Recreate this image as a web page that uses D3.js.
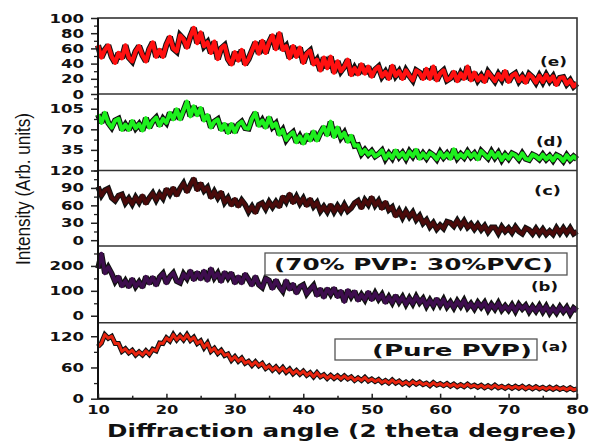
<!DOCTYPE html>
<html><head><meta charset="utf-8">
<script src="https://cdn.jsdelivr.net/npm/d3@7"></script>
<style>body{margin:0;background:#fff}svg{display:block}</style>
</head><body><svg id="c" width="589" height="441"></svg>
<script>
// sampling grid of diffraction angle (2 theta, degrees)
const angles = d3.range(10, 80.001, 0.5);

// (a) Pure PVP
const seriesA = [
100,107,123,116,120,106,106,91,96,88,
93,84,90,84,92,85,95,92,107,106,
117,111,123,113,121,113,123,112,118,106,
111,98,107,91,97,87,93,83,86,74,
81,72,78,68,72,64,71,63,68,58,
63,55,61,53,60,51,57,48,54,47,
53,45,50,42,50,42,46,39,45,39,
44,38,44,38,42,35,40,35,41,34,
38,33,37,31,35,30,36,30,34,28,
32,27,33,28,32,27,30,25,31,26,
29,25,29,24,28,23,27,23,28,23,
26,22,26,21,25,21,26,21,24,20,
24,20,24,20,24,19,23,19,23,19,
22,18,22,18,22,18,21,17,21,17,
19];
// (b) 70% PVP : 30% PVC
const seriesB = [
190,250,170,195,170,137,157,118,140,115,
148,117,136,114,157,129,155,122,155,170,
130,157,172,139,132,168,149,181,143,175,
146,181,140,190,152,171,136,175,151,172,
130,158,130,168,146,122,158,124,113,150,
142,108,143,116,98,142,105,128,90,116,
124,88,106,122,80,108,73,109,86,111,
75,100,55,103,76,98,61,85,64,96,
63,91,66,85,52,76,52,81,54,75,
46,71,48,77,52,69,39,63,40,68,
42,66,36,55,32,59,38,62,32,49,
28,53,34,53,23,46,27,51,23,40,
22,43,18,45,27,42,16,37,18,41,
16,38,11,31,12,36,16,34,8,31,
20];
// (c)
const seriesC = [
92,77,86,89,73,68,77,79,64,72,
62,74,65,77,63,73,81,69,80,72,
88,79,90,77,89,98,83,95,106,86,
98,85,91,73,84,73,83,65,73,60,
71,58,69,61,49,58,47,61,64,54,
66,57,66,57,75,66,80,64,75,63,
72,59,71,58,65,50,58,49,61,49,
59,50,61,50,55,64,68,55,69,61,
74,60,68,54,66,52,57,41,51,39,
50,40,48,35,42,29,35,23,30,19,
26,20,32,30,24,34,24,33,22,28,
19,27,18,25,14,22,22,12,23,15,
21,13,23,15,11,21,18,11,20,11,
19,10,16,10,21,12,21,12,21,11,
15];
// (d)
const seriesD = [
95,81,98,81,73,85,88,69,78,69,
84,72,79,68,89,73,84,90,76,88,
81,98,87,104,87,102,117,92,109,94,
106,85,94,73,83,87,69,79,64,79,
65,78,83,72,71,88,98,76,85,73,
90,74,80,61,69,52,60,65,48,58,
46,61,51,66,51,64,74,60,83,57,
73,56,64,49,59,42,43,28,35,27,
33,24,28,34,20,29,21,34,23,30,
20,32,24,35,20,29,21,30,26,19,
31,22,29,20,36,21,28,22,32,23,
29,19,33,27,21,32,22,30,18,27,
20,29,26,19,29,20,18,27,24,19,
27,19,25,17,26,23,16,26,18,24,
19];
// (e)
const seriesE = [
64,48,58,64,49,41,54,47,64,48,
43,56,63,51,43,59,68,49,58,49,
65,75,60,56,77,72,61,76,87,67,
81,63,68,54,69,46,60,64,46,39,
55,44,58,39,46,57,68,53,70,54,
68,77,59,80,58,63,47,63,49,61,
41,53,57,39,45,31,48,34,49,28,
43,30,36,45,25,34,26,39,27,36,
23,32,36,23,29,20,37,24,30,20,
31,24,18,31,28,20,33,20,36,18,
27,31,18,21,29,17,27,20,36,18,
28,18,24,16,29,23,17,26,19,30,
16,24,27,17,23,15,26,22,15,24,
16,25,17,23,12,21,22,13,18,10,
14];

const panelLabels = ["(e)", "(d)", "(c)", "(b)", "(a)"];
const yTicksE = [0, 20, 40, 60, 80, 100];
const yTicksD = [35, 70, 105];
const yTicksC = [0, 30, 60, 90, 120];
const yTicksB = [0, 100, 200];
const yTicksA = [0, 60, 120];
const xTicks = [10, 20, 30, 40, 50, 60, 70, 80];
const xMinor = [15, 25, 35, 45, 55, 65, 75];
const boxTexts = ["(70% PVP: 30%PVC)", "(Pure PVP)"];
const xTitle = "Diffraction angle (2 theta degree)";
const yTitle = "Intensity (Arb. units)";

const svg = d3.select("#c");
const L = 98, R = 577;
const x = d3.scaleLinear().domain([10, 80]).range([L, R]);

const panels = [
  {data: seriesE, color: "#ff1010", w: 4.2, domain: [0, 100],   top: 18,    bottom: 94,    ticks: yTicksE, minorStep: 10,   label: panelLabels[0], lx: 540, ly: 66},
  {data: seriesD, color: "#1ef01e", w: 4.0, domain: [0, 130],   top: 94,    bottom: 170.5, ticks: yTicksD, minorStep: 17.5, label: panelLabels[1], lx: 536, ly: 146},
  {data: seriesC, color: "#4a0a0a", w: 3.6, domain: [-10, 120], top: 170.5, bottom: 246,   ticks: yTicksC, minorStep: 15,   label: panelLabels[2], lx: 534, ly: 195},
  {data: seriesB, color: "#3e0d4e", w: 3.6, domain: [-28, 280], top: 246,   bottom: 322.7, ticks: yTicksB, minorStep: 50,   label: panelLabels[3], lx: 531, ly: 291},
  {data: seriesA, color: "#e8230e", w: 3.0, domain: [0, 146],   top: 322.7, bottom: 398.7, ticks: yTicksA, minorStep: 30,   label: panelLabels[4], lx: 541, ly: 351}
];

const tickFont = "'DejaVu Sans', sans-serif";

panels.forEach(p => {
  const y = d3.scaleLinear().domain(p.domain).range([p.bottom, p.top]);
  const line = d3.line().x((d, i) => x(angles[i])).y(d => y(d));
  const g = svg.append("g");
  g.append("path").datum(p.data).attr("d", line)
    .attr("fill", "none").attr("stroke", "#111").attr("stroke-width", p.w + 2)
    .attr("stroke-linejoin", "miter").attr("stroke-miterlimit", 2.2);
  g.append("path").datum(p.data).attr("d", line)
    .attr("fill", "none").attr("stroke", p.color).attr("stroke-width", p.w)
    .attr("stroke-linejoin", "round");

  // minor ticks
  const minor = [];
  for (let v = 0; v <= p.domain[1] + 0.01; v += p.minorStep) {
    if (v >= p.domain[0] && !p.ticks.includes(v)) minor.push(v);
  }
  const gm = svg.append("g").attr("transform", `translate(${L},0)`)
    .call(d3.axisLeft(y).tickValues(minor).tickSize(4).tickFormat(""));
  gm.select(".domain").remove();
  gm.selectAll("line").attr("stroke", "#222").attr("stroke-width", 1.3);

  const ga = svg.append("g").attr("transform", `translate(${L},0)`)
    .call(d3.axisLeft(y).tickValues(p.ticks).tickSize(7).tickPadding(7));
  ga.select(".domain").remove();
  ga.selectAll("line").attr("stroke", "#222").attr("stroke-width", 1.5);
  ga.selectAll("text")
    .attr("font-family", tickFont).attr("font-weight", "bold").attr("font-size", 12.5)
    .attr("fill", "#111")
    .attr("textLength", function() { return 11.5 * this.textContent.length; })
    .attr("lengthAdjust", "spacingAndGlyphs");

  svg.append("text").attr("x", p.lx).attr("y", p.ly).text(p.label)
    .attr("font-family", tickFont).attr("font-weight", "bold").attr("font-size", 13)
    .attr("fill", "#111").attr("textLength", 27).attr("lengthAdjust", "spacingAndGlyphs");
});

// frame and panel separators
svg.append("rect").attr("x", L).attr("y", 18).attr("width", R - L).attr("height", 398.7 - 18)
  .attr("fill", "none").attr("stroke", "#333").attr("stroke-width", 1.6);
panels.slice(1).forEach(p => {
  svg.append("line").attr("x1", L).attr("x2", R).attr("y1", p.top).attr("y2", p.top)
    .attr("stroke", "#333").attr("stroke-width", 1.6);
});
svg.append("line").attr("x1", L).attr("x2", L).attr("y1", 18).attr("y2", 398.7)
  .attr("stroke", "#111").attr("stroke-width", 2);
svg.append("line").attr("x1", L).attr("x2", R).attr("y1", 398.7).attr("y2", 398.7)
  .attr("stroke", "#111").attr("stroke-width", 2);

// bottom axis
const gxm = svg.append("g").attr("transform", "translate(0,398.7)")
  .call(d3.axisBottom(x).tickValues(xMinor).tickSize(-3).tickFormat(""));
gxm.select(".domain").remove();
gxm.selectAll("line").attr("stroke", "#222").attr("stroke-width", 1.5);
const gx = svg.append("g").attr("transform", "translate(0,398.7)")
  .call(d3.axisBottom(x).tickValues(xTicks).tickSize(-5).tickPadding(6));
gx.select(".domain").remove();
gx.selectAll("line").attr("stroke", "#222").attr("stroke-width", 1.5);
gx.selectAll("text")
  .attr("font-family", tickFont).attr("font-weight", "bold").attr("font-size", 12.5)
  .attr("fill", "#111")
  .attr("textLength", function() { return 11.3 * this.textContent.length; })
  .attr("lengthAdjust", "spacingAndGlyphs");

// boxed annotations
const boxes = [
  {text: boxTexts[0], bx: 265, by: 253, bw: 302, bh: 22, tx: 274, ty: 270, tl: 279},
  {text: boxTexts[1], bx: 335, by: 339, bw: 202, bh: 21, tx: 372, ty: 356, tl: 160}
];
boxes.forEach(b => {
  svg.append("rect").attr("x", b.bx).attr("y", b.by).attr("width", b.bw).attr("height", b.bh)
    .attr("fill", "#fff").attr("stroke", "#555").attr("stroke-width", 1.3);
  svg.append("text").attr("x", b.tx).attr("y", b.ty).text(b.text)
    .attr("font-family", tickFont).attr("font-weight", "bold").attr("font-size", 15)
    .attr("fill", "#111").attr("textLength", b.tl).attr("lengthAdjust", "spacingAndGlyphs");
});

// axis titles
svg.append("text").attr("x", 107).attr("y", 437).text(xTitle)
  .attr("font-family", tickFont).attr("font-weight", "bold").attr("font-size", 18.5)
  .attr("fill", "#111").attr("textLength", 470).attr("lengthAdjust", "spacingAndGlyphs");
svg.append("text").attr("transform", "translate(30,189) rotate(-90)")
  .attr("text-anchor", "middle").text(yTitle)
  .attr("font-family", "'Liberation Sans Narrow', 'Liberation Sans', sans-serif")
  .attr("font-size", 20).attr("fill", "#111")
  .attr("textLength", 152).attr("lengthAdjust", "spacingAndGlyphs");
</script></body></html>
